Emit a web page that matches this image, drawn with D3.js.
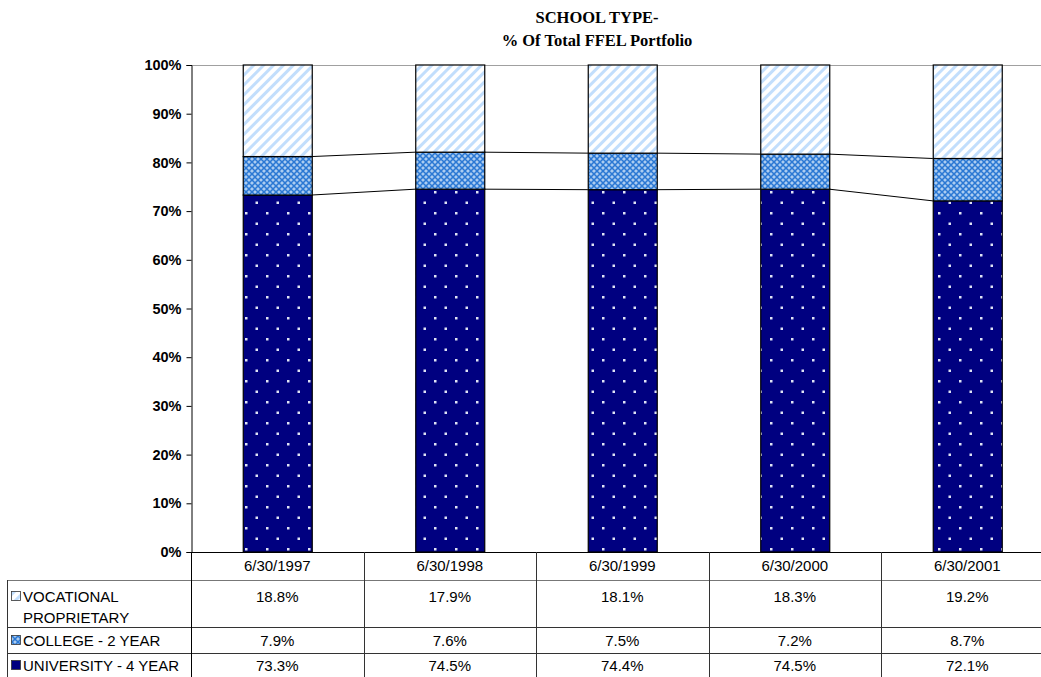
<!DOCTYPE html>
<html>
<head>
<meta charset="utf-8">
<script src="https://cdn.jsdelivr.net/npm/d3@7"></script>
<style>
  body { margin: 0; background: #fff; }
  svg { display: block; }
  .tick-label { font-family: "Liberation Sans", Arial, sans-serif; font-size: 14.5px; font-weight: bold; }
  .cell { font-family: "Liberation Sans", Arial, sans-serif; font-size: 15px; }
  .title { font-family: "Liberation Serif", "Times New Roman", serif; font-size: 16.5px; font-weight: bold; }
</style>
</head>
<body>
<svg id="chart" width="1041" height="677"></svg>
<script>
// Data
const dates = ["6/30/1997", "6/30/1998", "6/30/1999", "6/30/2000", "6/30/2001"];
const university = [73.3, 74.5, 74.4, 74.5, 72.1];
const college = [7.9, 7.6, 7.5, 7.2, 8.7];
const vocational = [18.8, 17.9, 18.1, 18.3, 19.2];
const yTicks = [0, 10, 20, 30, 40, 50, 60, 70, 80, 90, 100];

const svg = d3.select("#chart");
const defs = svg.append("defs");

// Fill patterns
const pVoc = defs.append("pattern").attr("id", "pVoc")
    .attr("patternUnits", "userSpaceOnUse").attr("width", 7).attr("height", 7)
    .attr("patternTransform", "rotate(45)");
pVoc.append("rect").attr("width", 7).attr("height", 7).attr("fill", "#ffffff");
pVoc.append("rect").attr("width", 3).attr("height", 7).attr("fill", "#c2defc");

const pCol = defs.append("pattern").attr("id", "pCol")
    .attr("patternUnits", "userSpaceOnUse").attr("width", 6).attr("height", 6);
pCol.append("rect").attr("width", 6).attr("height", 6).attr("fill", "#ffffff");
pCol.append("path").attr("d", "M0,0L6,6M6,0L0,6").attr("stroke", "#2a78d4").attr("stroke-width", 1.8);
pCol.append("path").attr("d", "M-1,3L1,3M5,3L7,3M3,-1L3,1M3,5L3,7").attr("stroke", "#5d9fe6").attr("stroke-width", 1);

const pUni = defs.append("pattern").attr("id", "pUni")
    .attr("patternUnits", "userSpaceOnUse").attr("width", 21).attr("height", 21)
    .attr("x", 245).attr("y", 2);
pUni.append("rect").attr("width", 21).attr("height", 21).attr("fill", "#000080");
pUni.append("rect").attr("x", 0).attr("y", 0).attr("width", 2.5).attr("height", 2.5).attr("fill", "#dfe3f5");
pUni.append("rect").attr("x", 10.5).attr("y", 10.5).attr("width", 2.5).attr("height", 2.5).attr("fill", "#dfe3f5");

const series = [
    { name: "UNIVERSITY - 4 YEAR", values: university, fill: "url(#pUni)" },
    { name: "COLLEGE - 2 YEAR", values: college, fill: "url(#pCol)" },
    { name: "VOCATIONAL PROPRIETARY", values: vocational, fill: "url(#pVoc)" }
];

const plotLeft = 191, plotTop = 65, plotBottom = 552;
const plotRight = 1053.5;

const x = d3.scaleBand().domain(dates).range([plotLeft, plotRight]).paddingInner(0.6).paddingOuter(0.3);
const col = d3.scaleBand().domain(dates).range([plotLeft, plotRight]).padding(0);
const y = d3.scaleLinear().domain([0, 100]).range([plotBottom, plotTop]);

// plot area top border
svg.append("line").attr("x1", plotLeft).attr("x2", 1041).attr("y1", plotTop + 0.5).attr("y2", plotTop + 0.5)
    .attr("stroke", "#a0a0a0");

// stacked data
const stacked = dates.map((d, i) => {
    let acc = 0;
    return series.map(s => {
        const y0 = acc; acc += s.values[i];
        return { date: d, y0: y0, y1: acc, fill: s.fill };
    });
});

// connector lines between bars
[0, 1].forEach(k => {
    for (let i = 0; i < dates.length - 1; i++) {
        const a = stacked[i][k], b = stacked[i + 1][k];
        svg.append("line")
            .attr("x1", x(a.date) + x.bandwidth()).attr("y1", y(a.y1))
            .attr("x2", x(b.date)).attr("y2", y(b.y1))
            .attr("stroke", "#000").attr("stroke-width", 1);
    }
});

// bars
stacked.forEach(group => {
    svg.selectAll(null).data(group).enter().append("rect")
        .attr("x", d => x(d.date) + 0.5)
        .attr("y", d => y(d.y1))
        .attr("width", x.bandwidth())
        .attr("height", d => y(d.y0) - y(d.y1))
        .attr("fill", d => d.fill)
        .attr("stroke", "#000").attr("stroke-width", 1.2);
});

// y axis
const yAxis = svg.append("g").attr("transform", `translate(${plotLeft + 0.5},0)`)
    .call(d3.axisLeft(y).tickValues(yTicks).tickSize(5).tickFormat(d => d + "%"));
yAxis.attr("font-family", null).attr("font-size", null);
yAxis.select(".domain").attr("stroke", "#000");
yAxis.selectAll(".tick line").attr("stroke", "#000");
yAxis.selectAll(".tick text").attr("class", "tick-label").attr("fill", "#000").attr("x", -10);

// data table
const rowY = [552, 580, 627, 653, 677];
const tbl = svg.append("g");
tbl.append("line").attr("x1", plotLeft).attr("x2", 1041).attr("y1", plotBottom + 0.5).attr("y2", plotBottom + 0.5).attr("stroke", "#000");
[1, 2, 3].forEach(r => {
    tbl.append("line").attr("x1", 7).attr("x2", 1041).attr("y1", rowY[r] + 0.5).attr("y2", rowY[r] + 0.5)
        .attr("stroke", r === 1 ? "#777" : "#333");
});
tbl.append("line").attr("x1", 7.5).attr("x2", 7.5).attr("y1", rowY[1]).attr("y2", 677).attr("stroke", "#333");
tbl.append("line").attr("x1", plotLeft + 0.5).attr("x2", plotLeft + 0.5).attr("y1", plotBottom).attr("y2", 677).attr("stroke", "#000");
dates.slice(1).forEach(d => {
    tbl.append("line").attr("x1", Math.round(col(d)) + 0.5).attr("x2", Math.round(col(d)) + 0.5)
        .attr("y1", plotBottom).attr("y2", 677).attr("stroke", "#333");
});

// header row
tbl.selectAll(null).data(dates).enter().append("text").attr("class", "cell")
    .attr("x", d => col(d) + col.bandwidth() / 2).attr("y", 571)
    .attr("text-anchor", "middle").text(d => d);

// value rows (vocational, college, university)
const tableRows = [
    { s: series[2], textY: 602, labels: ["VOCATIONAL", "PROPRIETARY"] },
    { s: series[1], textY: 646, labels: ["COLLEGE - 2 YEAR"] },
    { s: series[0], textY: 671, labels: ["UNIVERSITY - 4 YEAR"] }
];
tableRows.forEach(r => {
    tbl.append("rect").attr("x", 11.5).attr("y", r.textY - 10.5).attr("width", 9).attr("height", 9)
        .attr("fill", r.s.fill).attr("stroke", "#333").attr("stroke-width", 0.8);
    r.labels.forEach((t, j) => {
        tbl.append("text").attr("class", "cell").attr("x", 23).attr("y", r.textY + j * 21).text(t);
    });
    tbl.selectAll(null).data(r.s.values).enter().append("text").attr("class", "cell")
        .attr("x", (v, i) => col(dates[i]) + col.bandwidth() / 2).attr("y", r.textY)
        .attr("text-anchor", "middle").text(v => v.toFixed(1) + "%");
});

// title
svg.append("text").attr("class", "title").attr("x", 597).attr("y", 23).attr("text-anchor", "middle").text("SCHOOL TYPE-");
svg.append("text").attr("class", "title").attr("x", 597).attr("y", 46).attr("text-anchor", "middle").text("% Of Total FFEL Portfolio");
</script>
</body>
</html>
